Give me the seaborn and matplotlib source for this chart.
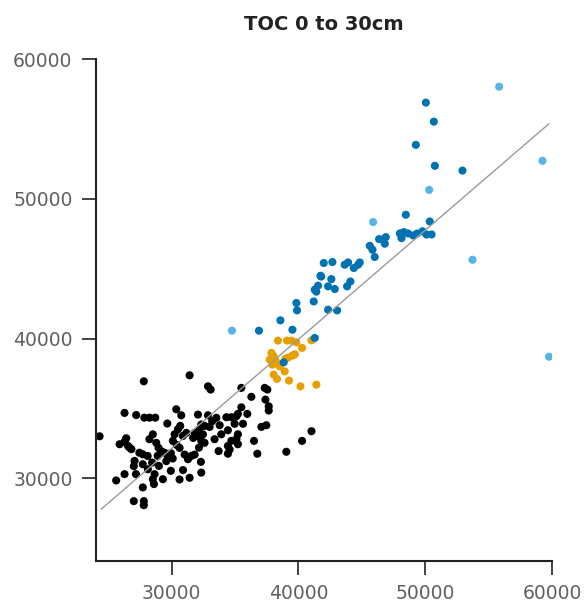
import numpy as np
import pandas as pd
from matplotlib import pyplot as plt
import seaborn as sns

# Points, one list pair per colour group

black_x = [27810, 31420, 24320, 26290, 27210, 27850, 28260, 28710, 29660, 30370,
           30760, 25900, 26290, 26560, 26420, 26680, 27460, 27720, 28110, 28520,
           28790, 28970, 29450, 29710, 29580, 30240, 30100, 30500, 30890, 31160,
           30630, 31030, 31290, 31820, 32080, 32340, 27080, 27730, 28130, 28660,
           28520, 29310, 25630, 26290, 27020, 30630, 31420, 32340, 27730, 27020,
           27810, 27810, 32340, 31820, 30680, 28250, 32160, 29940, 30090, 31570,
           32160, 32310, 28460, 28900, 29940, 28610, 27190, 26830, 32870, 33080,
           35500, 36290, 37340, 37550, 37400, 37660, 37660, 35500, 35970, 35230,
           32870, 33530, 34320, 34710, 35110, 35630, 37080, 37470, 32600, 33000,
           33790, 34440, 34970, 35230, 32470, 33390, 33920, 34710, 35110, 36500,
           32600, 34440, 35230, 33710, 34440, 34580, 36760, 39050, 40290, 41030,
           31950, 29200, 30400, 31700, 33200, 29000, 30900]
black_y = [36950, 37380, 33020, 34690, 34540, 34350, 34350, 34350, 33930, 34950,
           34520, 32450, 32620, 32330, 32880, 32210, 31840, 31730, 31610, 33160,
           32550, 32190, 31840, 31600, 31240, 33160, 32690, 33520, 33040, 33260,
           32190, 31710, 31380, 33260, 34570, 32690, 31260, 31020, 30660, 30310,
           29950, 29950, 29860, 30310, 30880, 29930, 30050, 30420, 29360, 28380,
           28380, 28090, 33860, 31710, 33760, 32810, 33480, 31810, 31430, 31620,
           32210, 31190, 31140, 31620, 30550, 29600, 30310, 32100, 36590, 36360,
           36480, 35840, 36480, 36360, 35640, 35160, 34860, 35090, 34620, 34620,
           34520, 34340, 34380, 34380, 34450, 33910, 33690, 33810, 33760, 33690,
           33810, 33450, 33910, 33160, 33160, 32810, 33160, 32690, 32810, 32690,
           32550, 32330, 32450, 31960, 31770, 32070, 31770, 31910, 32690, 33380,
           33040, 31950, 32400, 32900, 34100, 30900, 30600]

orange_x = [38390, 39100, 39450, 39840, 40290, 41030, 37870, 38050, 37740, 38260,
            37950, 38520, 39180, 39530, 38920, 38050, 38310, 39260, 40160, 41420,
            38000, 38200, 39720, 38990]
orange_y = [39860, 39860, 39860, 39740, 39340, 39880, 38980, 38690, 38500, 38260,
            38140, 38020, 38640, 38790, 37660, 37430, 37120, 37000, 36590, 36710,
            38800, 38450, 38880, 38570]

blue_x = [36890, 38580, 39530, 41290, 38840, 39840, 39890, 41210, 42340, 43050,
          41290, 41550, 41740, 42340, 42600, 42870, 42000, 42680, 43650, 43920,
          44370, 43840, 44100, 44710, 44840, 45630, 45840, 46020, 46360, 46890,
          46810, 48000, 48310, 48650, 49050, 49360, 49790, 50100, 50500, 48130,
          48470, 50360, 50050, 50680, 49260, 50760, 52940, 41800, 41410]
blue_y = [40570, 41310, 40640, 40050, 38310, 42550, 42020, 42660, 42070, 42020,
          43500, 43790, 44500, 43740, 44260, 43550, 45410, 45480, 45290, 45450,
          45050, 43740, 44090, 45290, 45450, 46640, 46360, 45840, 47120, 47260,
          46790, 47520, 47620, 47520, 47380, 47520, 47680, 47450, 47450, 47190,
          48860, 48380, 56880, 55520, 53860, 52360, 52020, 44440, 43360]

light_x = [34760, 45890, 50310, 53730, 55830, 59250, 59760]
light_y = [40570, 48340, 50640, 45640, 58020, 52720, 38710]

# fitted line end points
fit_x = [24450, 59760]
fit_y = [27810, 55370]

groups = ['black', 'orange', 'blue', 'light']
colours = {'black': '#000000', 'orange': '#E69F00', 'blue': '#0072B2', 'light': '#56B4E9'}

df = pd.concat([
    pd.DataFrame({'x': black_x, 'y': black_y, 'group': 'black'}),
    pd.DataFrame({'x': orange_x, 'y': orange_y, 'group': 'orange'}),
    pd.DataFrame({'x': blue_x, 'y': blue_y, 'group': 'blue'}),
    pd.DataFrame({'x': light_x, 'y': light_y, 'group': 'light'}),
], ignore_index=True)

sns.set_style('ticks')
plt.rcParams['font.family'] = ['DejaVu Sans']

fig, ax = plt.subplots(figsize=(5.87, 6.07), dpi=100)
fig.subplots_adjust(left=0.1627, right=0.9404, top=0.9028, bottom=0.0758)

sns.lineplot(x=fit_x, y=fit_y, color='#9a9a9a', linewidth=1, ax=ax)
sns.scatterplot(data=df, x='x', y='y', hue='group', hue_order=groups, palette=colours,
                s=34, linewidth=0, legend=False, ax=ax)

ax.set_xlim(24000, 60000)
ax.set_ylim(24100, 60000)
ax.set_xticks([30000, 40000, 50000, 60000])
ax.set_yticks([30000, 40000, 50000, 60000])
ax.set_xlabel('')
ax.set_ylabel('')
ax.tick_params(axis='both', length=10, width=1.2, color='#222222', labelsize=13.5,
               labelcolor='#606060', pad=6.5, direction='out')
sns.despine(ax=ax)
for side in ['left', 'bottom']:
    ax.spines[side].set_linewidth(1.5)
    ax.spines[side].set_color('#222222')

ax.set_title('TOC 0 to 30cm', fontsize=14, fontweight='bold', color='#222222', pad=21)

plt.savefig('out.png', dpi=100)
